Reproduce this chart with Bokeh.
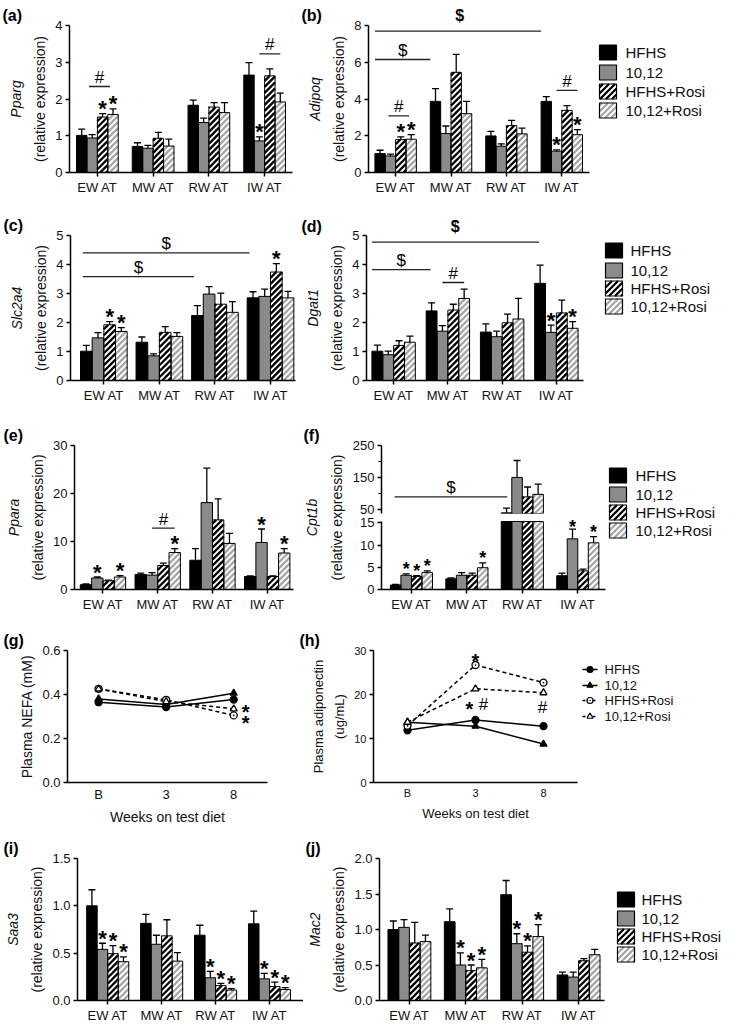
from bokeh.plotting import figure
from bokeh.models import (ColumnDataSource, Range1d, FixedTicker, LinearAxis, Label,
                          NumeralTickFormatter)
from bokeh.layouts import row, column
from bokeh.core.properties import value
from bokeh.embed import file_html
from bokeh.resources import INLINE

FONT = "Liberation Sans"
SERIES = ["HFHS", "10,12", "HFHS+Rosi", "10,12+Rosi"]
DEPOTS = ["EW AT", "MW AT", "RW AT", "IW AT"]
WEEKS = ["B", "3", "8"]

# ---------------- data ----------------
PPARG_MEAN = {"HFHS": [1.01, 0.71, 1.83, 2.65], "10,12": [0.94, 0.66, 1.36, 0.86],
              "HFHS+Rosi": [1.51, 0.93, 1.78, 2.63], "10,12+Rosi": [1.58, 0.72, 1.63, 1.92]}
PPARG_SEM = {"HFHS": [0.17, 0.10, 0.14, 0.34], "10,12": [0.09, 0.08, 0.12, 0.11],
             "HFHS+Rosi": [0.09, 0.16, 0.12, 0.19], "10,12+Rosi": [0.15, 0.19, 0.27, 0.24]}
ADIPOQ_MEAN = {"HFHS": [1.03, 3.87, 1.99, 3.87], "10,12": [0.90, 2.12, 1.43, 1.16],
               "HFHS+Rosi": [1.79, 5.45, 2.55, 3.38], "10,12+Rosi": [1.81, 3.20, 2.10, 2.06]}
ADIPOQ_SEM = {"HFHS": [0.18, 0.69, 0.25, 0.26], "10,12": [0.10, 0.41, 0.13, 0.07],
              "HFHS+Rosi": [0.15, 0.98, 0.29, 0.26], "10,12+Rosi": [0.25, 0.67, 0.31, 0.27]}
SLC2A4_MEAN = {"HFHS": [1.01, 1.32, 2.24, 2.85], "10,12": [1.47, 0.85, 2.98, 2.90],
               "HFHS+Rosi": [1.92, 1.66, 2.63, 3.74], "10,12+Rosi": [1.69, 1.52, 2.35, 2.85]}
SLC2A4_SEM = {"HFHS": [0.20, 0.18, 0.34, 0.21], "10,12": [0.18, 0.07, 0.26, 0.25],
              "HFHS+Rosi": [0.11, 0.20, 0.38, 0.29], "10,12+Rosi": [0.13, 0.13, 0.37, 0.22]}
DGAT1_MEAN = {"HFHS": [1.01, 2.40, 1.67, 3.35], "10,12": [0.89, 1.70, 1.51, 1.66],
              "HFHS+Rosi": [1.21, 2.43, 1.99, 2.33], "10,12+Rosi": [1.32, 2.83, 2.12, 1.80]}
DGAT1_SEM = {"HFHS": [0.21, 0.28, 0.28, 0.63], "10,12": [0.12, 0.19, 0.19, 0.25],
             "HFHS+Rosi": [0.16, 0.20, 0.30, 0.44], "10,12+Rosi": [0.21, 0.32, 0.71, 0.23]}
PPARA_MEAN = {"HFHS": [1.0, 3.1, 6.1, 2.7], "10,12": [2.4, 3.0, 18.1, 9.8],
              "HFHS+Rosi": [1.8, 5.0, 14.5, 2.7], "10,12+Rosi": [2.6, 7.7, 9.6, 7.6]}
PPARA_SEM = {"HFHS": [0.15, 0.3, 2.4, 0.15], "10,12": [0.2, 0.5, 7.2, 2.8],
             "HFHS+Rosi": [0.15, 0.5, 4.4, 0.15], "10,12+Rosi": [0.3, 0.8, 2.1, 0.9]}
CPT1B_MEAN = {"HFHS": [1.0, 2.4, 39.0, 3.1], "10,12": [3.2, 3.2, 150.0, 11.4],
              "HFHS+Rosi": [2.9, 3.2, 89.0, 4.2], "10,12+Rosi": [3.8, 4.9, 97.0, 10.5]}
CPT1B_SEM = {"HFHS": [0.15, 0.2, 15.0, 0.6], "10,12": [0.3, 0.6, 53.0, 2.2],
             "HFHS+Rosi": [0.2, 0.5, 31.0, 0.4], "10,12+Rosi": [0.4, 1.1, 32.0, 1.4]}
SAA3_MEAN = {"HFHS": [1.00, 0.815, 0.69, 0.81], "10,12": [0.54, 0.594, 0.24, 0.229],
             "HFHS+Rosi": [0.495, 0.683, 0.157, 0.147], "10,12+Rosi": [0.41, 0.416, 0.11, 0.116]}
SAA3_SEM = {"HFHS": [0.17, 0.095, 0.105, 0.135], "10,12": [0.065, 0.095, 0.067, 0.058],
            "HFHS+Rosi": [0.085, 0.17, 0.023, 0.048], "10,12+Rosi": [0.05, 0.09, 0.016, 0.02]}
MAC2_MEAN = {"HFHS": [1.00, 1.11, 1.49, 0.36], "10,12": [1.03, 0.50, 0.80, 0.33],
             "HFHS+Rosi": [0.81, 0.42, 0.68, 0.56], "10,12+Rosi": [0.83, 0.46, 0.90, 0.645]}
MAC2_SEM = {"HFHS": [0.12, 0.18, 0.20, 0.04], "10,12": [0.11, 0.17, 0.14, 0.07],
            "HFHS+Rosi": [0.29, 0.08, 0.09, 0.03], "10,12+Rosi": [0.09, 0.12, 0.17, 0.075]}
NEFA = {"HFHS": [0.365, 0.343, 0.377], "10,12": [0.380, 0.355, 0.406],
        "HFHS+Rosi": [0.426, 0.376, 0.305], "10,12+Rosi": [0.425, 0.368, 0.335]}
ADIPONECTIN = {"HFHS": [11.85, 14.2, 12.8], "10,12": [13.7, 12.8, 8.75],
               "HFHS+Rosi": [12.9, 26.7, 22.7], "10,12+Rosi": [13.7, 21.3, 20.4]}

# significance marks: (depot index, series index)
PPARG_STARS = [(0, 2), (0, 3), (3, 1)]
ADIPOQ_STARS = [(0, 2), (0, 3), (3, 1), (3, 3)]
SLC2A4_STARS = [(0, 2), (0, 3), (3, 2)]
DGAT1_STARS = [(3, 1), (3, 3)]
PPARA_STARS = [(0, 1), (0, 3), (1, 3), (3, 1), (3, 3)]
CPT1B_STARS = [(0, 1), (0, 2), (0, 3), (1, 3), (3, 1), (3, 3)]
SAA3_STARS = [(0, 1), (0, 2), (0, 3), (2, 1), (2, 2), (2, 3), (3, 1), (3, 2), (3, 3)]
MAC2_STARS = [(1, 1), (1, 2), (1, 3), (2, 1), (2, 2), (2, 3)]
# comparison lines: (depot from, bar slot from, depot to, bar slot to, level, symbol)
PPARG_LINES = [(0, 0.7, 0, 2.7, 2.34, "#"), (3, 1.0, 3, 3.0, 3.23, "#")]
ADIPOQ_LINES = [(0, -0.5, 3, -0.5, 7.69, "$"), (0, -0.5, 1, -0.5, 6.15, "$"),
                (0, 0.8, 0, 2.8, 3.08, "#"), (3, 1.0, 3, 3.0, 4.47, "#")]
SLC2A4_LINES = [(0, -0.3, 3, -0.3, 4.40, "$"), (0, -0.3, 2, -0.3, 3.58, "$")]
DGAT1_LINES = [(0, -0.5, 3, -0.1, 4.77, "$"), (0, -0.5, 1, -0.1, 3.82, "$"), (1, 1.0, 1, 3.0, 3.38, "#")]
PPARA_LINES = [(1, 1.0, 1, 3.0, 12.8, "#")]
CPT1B_LINES = [(0, -0.1, 2, 0.07, 89.0, "$")]
# line-chart notes: (week index, series index, text, dx px, dy px of symbol centre)
NEFA_NOTES = [(2, 3, "*", 12, 1), (2, 2, "*", 12, -4)]
ADIPO_NOTES = [(1, 2, "*", 0, 8), (1, 3, "*", -6, -16), (1, 3, "#", 8, -16), (2, 3, "#", -1, -15)]

FILLS = ["black", "#8a8a8a", "white", "white"]
STRIPES = [None, None, "black", "#a6a6a6"]
MARKERS = ["circle", "triangle", "circle_dot", "triangle"]
MFILL = ["black", "black", "white", "white"]

# Liberation Sans Bold advance widths (em) for the panel-letter titles
BOLD_EM = {"(": 0.333, ")": 0.333, "a": 0.556, "b": 0.611, "c": 0.556, "d": 0.611, "e": 0.556,
           "f": 0.333, "g": 0.611, "h": 0.611, "i": 0.278, "j": 0.278, "$": 0.556, "#": 0.556,
           "\u00a0": 0.278}
TITLE_PX = 16


def stripe_segments(x0, x1, y0, y1, xpp, upp, period=6.0):
    """'/' hatch lines clipped to the rectangle [x0,x1]x[y0,y1] (data units)."""
    w = (x1 - x0) / xpp
    h = (y1 - y0) / upp
    phase = (x0 / xpp - y0 / upp) % period
    out = ([], [], [], [])
    c = -h - phase
    while c < w:
        ya = max(0.0, -c)
        yb = min(h, w - c)
        if yb > ya:
            out[0].append(x0 + (c + ya) * xpp)
            out[1].append(y0 + ya * upp)
            out[2].append(x0 + (c + yb) * xpp)
            out[3].append(y0 + yb * upp)
        c += period
    return out


def base_fig(geom, xr, yr, xaxis=True, yaxis=True):
    mbl, fw, mbr, mbt, fh, mbb = geom
    p = figure(frame_width=fw, frame_height=fh, min_border_left=mbl, min_border_right=mbr,
               min_border_top=mbt, min_border_bottom=mbb, x_range=Range1d(*xr), y_range=Range1d(*yr),
               toolbar_location=None, output_backend="svg",
               x_axis_location="below" if xaxis else None, y_axis_location="left" if yaxis else None,
               outline_line_color=None)
    p.grid.visible = False
    return p


def set_letter(p, txt, offset, extras=(), standoff=4):
    """Panel letter as the plot title; symbols that sit above the frame are appended,
    padded with no-break spaces so they land over their comparison line."""
    text = txt
    for cx, sym in extras:
        used = sum(BOLD_EM.get(ch, 0.55) for ch in text) * TITLE_PX
        gap = cx - offset - used - 0.5 * BOLD_EM[sym] * TITLE_PX
        n = max(1, int(round(gap / (BOLD_EM["\u00a0"] * TITLE_PX))))
        text += "\u00a0" * n + sym
    p.title.text = text
    p.title.align = "left"
    p.title.offset = offset
    p.title.standoff = standoff
    p.title.text_font = FONT
    p.title.text_font_size = f"{TITLE_PX}px"
    p.title.text_font_style = "bold"
    p.title.text_color = "black"


def style_axis(ax, tick_size="13px", label_size="14px"):
    ax.axis_line_color = "black"
    ax.axis_line_width = 1.5
    ax.major_tick_line_color = "black"
    ax.major_tick_line_width = 1.5
    ax.major_tick_in = 0
    ax.major_tick_out = 4
    ax.minor_tick_line_color = "black"
    ax.minor_tick_line_width = 1.2
    ax.minor_tick_in = 0
    ax.minor_tick_out = 3
    ax.major_label_text_font = FONT
    ax.major_label_text_font_size = tick_size
    ax.major_label_text_color = "#111111"
    ax.major_label_standoff = 3
    ax.axis_label_text_font = FONT
    ax.axis_label_text_font_size = label_size
    ax.axis_label_text_font_style = "normal"
    ax.axis_label_text_color = "#111111"
    ax.axis_label_standoff = 4


def side_label(p, text, italic, standoff, size="14px"):
    ax = LinearAxis(ticker=FixedTicker(ticks=[]), axis_label=text, axis_line_color=None,
                    major_tick_line_color=None, minor_tick_line_color=None, major_tick_out=0,
                    minor_tick_out=0, major_label_text_font_size="0px", axis_label_standoff=standoff,
                    axis_label_text_font=FONT, axis_label_text_font_size=size,
                    axis_label_text_color="#111111",
                    axis_label_text_font_style="italic" if italic else "normal")
    p.add_layout(ax, "left")


def sym_label(p, x, y, txt, size):
    p.add_layout(Label(x=x, y=y, text=txt, text_align="center", text_baseline="middle",
                       text_font=FONT, text_font_size=f"{size}px",
                       text_font_style="bold" if txt == "*" else "normal", text_color="black"))


def bar_panel(geom, xr, yr, yticks, bw, means, sems, gene=None, relabel=True, stars=(), lines=(),
              xaxis=True, yfmt=None, yminor=None, letter=None, seg_top=None, title_standoff=4,
              star_gap=5, star_size=22):
    p = base_fig(geom, xr, yr, xaxis=xaxis)
    mbl, fw, mbr, mbt, fh, mbb = geom
    upp = (yr[1] - yr[0]) / fh
    xpp = (xr[1] - xr[0]) / fw
    half_cap = 3.5 * xpp
    top_lim = seg_top if seg_top is not None else yr[1]

    def slot_x(g, b):
        return g + 1 + (b - 1.5) * bw

    srcs = []
    for k, s in enumerate(SERIES):
        m = means[s]
        e = sems[s]
        idx = [g for g in range(len(DEPOTS)) if m[g] > yr[0]]
        xs = [slot_x(g, k) for g in idx]
        tops = [min(m[g], top_lim) for g in idx]
        ups = [m[g] + e[g] if m[g] + e[g] <= top_lim else min(m[g], top_lim) for g in idx]
        srcs.append(ColumnDataSource(dict(
            x=xs, top=tops, up=ups, xl=[x - half_cap for x in xs], xh=[x + half_cap for x in xs],
            wl=[1.3 if m[g] + e[g] <= top_lim else 0 for g in idx])))
    for k in range(4):
        p.vbar(x="x", top="top", bottom=0, width=bw, source=srcs[k], fill_color=FILLS[k],
               line_color=None)
    for k in range(4):
        if STRIPES[k] is None:
            continue
        d = srcs[k].data
        sx0, sy0, sx1, sy1 = [], [], [], []
        for x, t in zip(d["x"], d["top"]):
            a, b, c, dd = stripe_segments(x - bw / 2, x + bw / 2, 0, t, xpp, upp)
            sx0 += a
            sy0 += b
            sx1 += c
            sy1 += dd
        p.segment(x0=sx0, y0=sy0, x1=sx1, y1=sy1, line_color=STRIPES[k], line_width=2.3,
                  line_cap="butt")
    for k in range(4):
        p.vbar(x="x", top="top", bottom=0, width=bw, source=srcs[k], fill_color=None,
               line_color="black", line_width=1)
        p.segment(x0="x", y0="top", x1="x", y1="up", source=srcs[k], line_color="black",
                  line_width="wl")
        p.segment(x0="xl", y0="up", x1="xh", y1="up", source=srcs[k], line_color="black",
                  line_width="wl")

    for g, k in stars:
        s = SERIES[k]
        cap = means[s][g] + sems[s][g]
        if not (yr[0] <= cap <= top_lim):
            continue
        # keep the whole star text box inside the frame when it is close to the top
        room = (yr[1] - cap) / upp - 0.6 * star_size
        gap = min(star_gap, room)
        sym_label(p, slot_x(g, k), cap + gap * upp, "*", star_size)
    extras = []
    for g0, b0, g1, b1, lev, sym in lines:
        x0 = slot_x(g0, b0)
        x1 = slot_x(g1, b1)
        p.segment(x0=[x0], y0=[lev], x1=[x1], y1=[lev], line_color="#222222", line_width=1.3)
        ylab = lev + 9 * upp
        if ylab + 7 * upp > yr[1]:
            extras.append((((x0 + x1) / 2 - xr[0]) / xpp, sym))
        else:
            sym_label(p, (x0 + x1) / 2, ylab, sym, 17)

    ya = p.yaxis[0]
    style_axis(ya)
    ya.ticker = FixedTicker(ticks=yticks, minor_ticks=yminor or [])
    if seg_top is not None:
        ya.bounds = (yr[0], seg_top)
    if yfmt:
        ya.formatter = NumeralTickFormatter(format=yfmt)
    if relabel:
        ya.axis_label = "(relative expression)"
    if gene:
        side_label(p, gene, True, 6)
    if xaxis:
        xa = p.xaxis[0]
        style_axis(xa)
        xa.ticker = FixedTicker(ticks=[i + 1 for i in range(len(DEPOTS))])
        xa.major_label_overrides = {i + 1: d for i, d in enumerate(DEPOTS)}
    if letter:
        set_letter(p, letter[0], letter[1], extras, title_standoff)
    return p


def line_panel(geom, xr, yr, yticks, vals, ylabel, extra=None, yfmt=None, notes=(), letter=None,
               tick_size="13px", label_size="14px", msize=7):
    p = base_fig(geom, xr, yr)
    mbl, fw, mbr, mbt, fh, mbb = geom
    upp = (yr[1] - yr[0]) / fh
    xpp = (xr[1] - xr[0]) / fw
    xs = list(range(len(WEEKS)))
    for k, s in enumerate(SERIES):
        p.line(x=xs, y=vals[s], line_color="black", line_width=1.5,
               line_dash="solid" if k < 2 else "4 3")
    for k, s in enumerate(SERIES):
        p.scatter(x=xs, y=vals[s], marker=MARKERS[k], size=msize, fill_color=MFILL[k],
                  line_color="black", line_width=1.3)
    for w, k, txt, dx, dy in notes:
        size = 20 if txt == "*" else 17
        lift = 0.2 * size if txt == "*" else 0
        sym_label(p, w + dx * xpp, vals[SERIES[k]][w] + (dy - lift) * upp, txt, size)
    ya = p.yaxis[0]
    style_axis(ya, tick_size, label_size)
    ya.ticker = FixedTicker(ticks=yticks)
    if yfmt:
        ya.formatter = NumeralTickFormatter(format=yfmt)
    ya.axis_label = ylabel
    if extra:
        side_label(p, extra, False, 4, label_size)
    xa = p.xaxis[0]
    style_axis(xa, tick_size, label_size)
    xa.major_tick_out = 0
    xa.major_label_standoff = 4
    xa.axis_label_standoff = 4
    xa.ticker = FixedTicker(ticks=xs)
    xa.major_label_overrides = {i: w for i, w in enumerate(WEEKS)}
    xa.axis_label = "Weeks on test diet"
    if letter:
        set_letter(p, *letter)
    return p


def legend_fig(width, vgeom, sx, centres, text_x, kind="bar", font="15px"):
    """Key in pixel units; frame shares the row's vertical geometry.
    centres are measured down from the top of the row."""
    mbt, fh, mbb = vgeom
    p = figure(frame_width=width, frame_height=fh, x_range=Range1d(0, width), y_range=Range1d(0, fh),
               min_border_left=0, min_border_right=0, min_border_top=mbt, min_border_bottom=mbb,
               toolbar_location=None, output_backend="svg", x_axis_location=None,
               y_axis_location=None, outline_line_color=None)
    p.grid.visible = False
    ys = [fh + mbt - c for c in centres]
    if kind == "bar":
        sw, sh = 17, 15
        for k in range(4):
            src = ColumnDataSource(dict(l=[sx], r=[sx + sw], b=[ys[k] - sh / 2], t=[ys[k] + sh / 2]))
            p.quad(left="l", right="r", bottom="b", top="t", source=src, fill_color=FILLS[k],
                   line_color=None)
            if STRIPES[k]:
                a, b, c, d = stripe_segments(sx, sx + sw, ys[k] - sh / 2, ys[k] + sh / 2, 1, 1, 6.0)
                p.segment(x0=a, y0=b, x1=c, y1=d, line_color=STRIPES[k], line_width=2.3,
                          line_cap="butt")
            p.quad(left="l", right="r", bottom="b", top="t", source=src, fill_color=None,
                   line_color="black", line_width=1.2)
    else:
        for k in range(4):
            p.segment(x0=[sx], y0=[ys[k]], x1=[sx + 15], y1=[ys[k]], line_color="black",
                      line_width=1.5, line_dash="solid" if k < 2 else "3 2")
            p.scatter(x=[sx + 7.5], y=[ys[k]], marker=MARKERS[k], size=6, fill_color=MFILL[k],
                      line_color="black", line_width=1.2)
    p.text(x=[text_x] * 4, y=ys, text=SERIES, text_font=value(FONT), text_font_size=value(font),
           text_baseline="middle", text_align="left", text_color="#111111")
    return p


# ---------------- row 1: (a) Pparg, (b) Adipoq ----------------
V1 = (25, 147, 25)
fa = bar_panel((69, 223, 8) + V1, (0.5, 4.5), (0, 4), [0, 1, 2, 3, 4], 0.187, PPARG_MEAN, PPARG_SEM,
               gene="Pparg", stars=PPARG_STARS, lines=PPARG_LINES, letter=("(a)", -67))
fb = bar_panel((68, 221, 6) + V1, (0.51, 4.5), (0, 8), [0, 2, 4, 6, 8], 0.187, ADIPOQ_MEAN, ADIPOQ_SEM,
               gene="Adipoq", stars=ADIPOQ_STARS, lines=ADIPOQ_LINES, letter=("(b)", -67))
lb = legend_fig(142, V1, 4, [52, 72, 91, 110], 30)

# ---------------- row 2: (c) Slc2a4, (d) Dgat1 ----------------
V2 = (38, 145, 25)
fc = bar_panel((70, 225, 5) + V2, (0.40, 4.45), (0, 5), [0, 1, 2, 3, 4, 5], 0.21, SLC2A4_MEAN,
               SLC2A4_SEM, gene="Slc2a4", stars=SLC2A4_STARS, lines=SLC2A4_LINES, letter=("(c)", -67))
fd = bar_panel((66, 217, 10) + V2, (0.5, 4.5), (0, 5), [0, 1, 2, 3, 4, 5], 0.2, DGAT1_MEAN, DGAT1_SEM,
               gene="Dgat1", stars=DGAT1_STARS, lines=DGAT1_LINES, letter=("(d)", -65),
               title_standoff=1)
ld = legend_fig(144, V2, 12, [53, 73, 91, 109], 37)

# ---------------- row 3: (e) Ppara, (f) Cpt1b (broken axis) ----------------
V3 = (40, 144, 25)
fe = bar_panel((74, 219, 7) + V3, (0.48, 4.48), (0, 30), [0, 10, 20, 30], 0.207, PPARA_MEAN, PPARA_SEM,
               gene="Ppara", stars=PPARA_STARS, lines=PPARA_LINES, letter=("(e)", -71))
ff_lab = base_fig((44, 1, 0) + V3, (0, 1), (0, 1), xaxis=False)
ya = ff_lab.yaxis[0]
style_axis(ya)
ya.ticker = FixedTicker(ticks=[])
ya.axis_line_color = None
ya.major_tick_out = 0
ya.axis_label = "(relative expression)"
ya.axis_label_standoff = 2
side_label(ff_lab, "Cpt1b", True, 6)
set_letter(ff_lab, "(f)", -43)
ff_up = bar_panel((34, 224, 2, 40, 68, 3), (0.46, 4.5), (37, 250), [50, 150, 250], 0.19, CPT1B_MEAN,
                  CPT1B_SEM, relabel=False, stars=CPT1B_STARS, lines=CPT1B_LINES, xaxis=False,
                  yminor=[100, 200])
LOW_TOP = 15.3
ff_lo = bar_panel((34, 224, 2, 0, 73, 25), (0.46, 4.5), (0, LOW_TOP * 73 / 68), [0, 5, 10, 15], 0.19,
                  CPT1B_MEAN, CPT1B_SEM, relabel=False, stars=CPT1B_STARS, seg_top=LOW_TOP,
                  star_size=18)
lf = legend_fig(132, V3, 2, [70, 89, 107, 125], 28)

# ---------------- row 4: (g) NEFA, (h) adiponectin ----------------
V4 = (36, 132, 44)
fg = line_panel((67, 200, 31) + V4, (-0.46, 2.5), (0, 0.6), [0.0, 0.2, 0.4, 0.6], NEFA,
                "Plasma NEFA (mM)", yfmt="0.0", notes=NEFA_NOTES, letter=("(g)", -64))
fh = line_panel((75, 204, 3) + V4, (-0.5, 2.5), (0, 30), [0, 10, 20, 30], ADIPONECTIN, "(ug/mL)",
                extra="Plasma adiponectin", notes=ADIPO_NOTES, letter=("(h)", -74),
                tick_size="11px", label_size="13px", msize=7)
lh = legend_fig(157, V4, 2, [55, 71, 86, 102], 24, kind="line", font="13px")

# ---------------- row 5: (i) Saa3, (j) Mac2 ----------------
V5 = (31, 142, 25)
fi = bar_panel((77, 226, 0) + V5, (0.44, 4.63), (0, 1.5), [0.0, 0.5, 1.0, 1.5], 0.195, SAA3_MEAN,
               SAA3_SEM, gene="Saa3", stars=SAA3_STARS, yfmt="0.0", letter=("(i)", -74))
fj = bar_panel((75, 225, 5) + V5, (0.47, 4.46), (0, 2.0), [0.0, 0.5, 1.0, 1.5, 2.0], 0.19, MAC2_MEAN,
               MAC2_SEM, gene="Mac2", stars=MAC2_STARS, yfmt="0.0", letter=("(j)", -74))
lj = legend_fig(129, V5, 8, [72, 91, 109, 127], 32)

layout = column(
    row(fa, fb, lb),
    row(fc, fd, ld),
    row(fe, ff_lab, column(ff_up, ff_lo), lf),
    row(fg, fh, lh),
    row(fi, fj, lj),
)

open("out.html", "w").write(file_html(layout, INLINE))
